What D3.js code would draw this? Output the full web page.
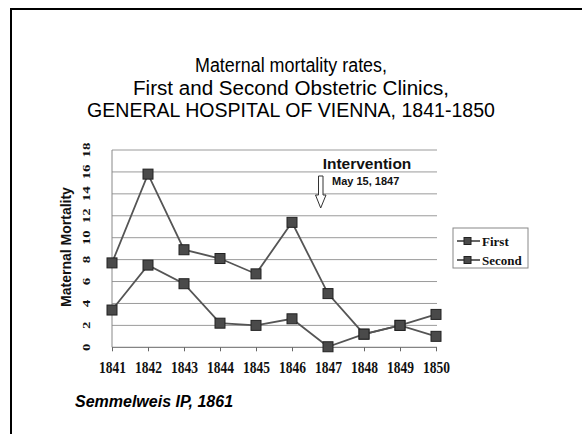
<!DOCTYPE html>
<html>
<head>
<meta charset="utf-8">
<script src="https://cdn.jsdelivr.net/npm/d3@7"></script>
<style>
body { margin: 0; background: #fff; }
svg { display: block; }
.grid line { stroke: #9a9a9a; stroke-width: 1; }
.serif { font-family: "Liberation Serif", "Times New Roman", serif; font-weight: bold; }
</style>
</head>
<body>
<div id="chart"></div>
<script>
// values
var years = ['1841','1842','1843','1844','1845','1846','1847','1848','1849','1850'];
var first = [7.7, 15.8, 8.9, 8.1, 6.7, 11.4, 4.9, 1.2, 2.0, 1.0];
var second = [3.4, 7.5, 5.8, 2.2, 2.0, 2.6, 0.05, 1.2, 2.0, 3.0];
var yTicks = [0, 2, 4, 6, 8, 10, 12, 14, 16, 18];
var titleLines = ['Maternal mortality rates,', 'First and Second Obstetric Clinics,', 'GENERAL HOSPITAL OF VIENNA, 1841-1850'];
var titleWidths = [192, 316, 408];

var W = 582, H = 434;
var svg = d3.select('#chart').append('svg').attr('width', W).attr('height', H);

// slide frame
svg.append('path')
    .attr('d', 'M11,' + H + 'V9H' + W)
    .attr('fill', 'none').attr('stroke', '#000').attr('stroke-width', 2);

// title, fitted to the widths measured on the slide
svg.append('g').selectAll('text').data(titleLines).enter().append('text')
    .attr('x', 291).attr('y', function(d, i) { return 72 + i * 22.5; })
    .attr('text-anchor', 'middle')
    .style('font-family', '"Liberation Sans", Arial, sans-serif')
    .style('font-size', '19.5px')
    .attr('textLength', function(d, i) { return titleWidths[i]; })
    .attr('lengthAdjust', 'spacingAndGlyphs')
    .attr('fill', '#000')
    .text(function(d) { return d; });

var x = d3.scalePoint().domain(years).range([112, 436]);
var y = d3.scaleLinear().domain([0, 18]).range([347.3, 150]);

// gridlines
svg.append('g').attr('class', 'grid').selectAll('line').data(yTicks.slice(1)).enter().append('line')
    .attr('x1', 112).attr('x2', 437)
    .attr('y1', function(d) { return y(d); }).attr('y2', function(d) { return y(d); });

// y axis line
svg.append('line').attr('x1', 112).attr('x2', 112).attr('y1', y(18)).attr('y2', y(0))
    .attr('stroke', '#888').attr('stroke-width', 1);

// x axis - labels in the pasted chart are stretched vertically
var xAxis = d3.axisBottom(x).tickSize(4).tickPadding(10);
var gx = svg.append('g').attr('transform', 'translate(0,' + y(0) + ')').call(xAxis);
gx.select('.domain').attr('stroke', '#666').attr('d', 'M112,0H437');
gx.selectAll('.tick line').attr('stroke', '#666');
gx.selectAll('.tick text').attr('class', 'serif').style('font-size', '13.5px').attr('fill', '#111')
    .attr('y', 0).attr('dy', 0)
    .attr('transform', 'translate(0,26) scale(1,1.25)');

// y tick labels (rotated)
svg.append('g').selectAll('text').data(yTicks).enter().append('text')
    .attr('class', 'serif')
    .attr('transform', function(d) { return 'translate(90,' + y(d) + ') rotate(-90) scale(1.35,1)'; })
    .attr('text-anchor', 'middle')
    .style('font-size', '11px')
    .attr('fill', '#111')
    .text(function(d) { return d; });

// y axis title
svg.append('text')
    .attr('transform', 'translate(71,247) rotate(-90)')
    .attr('text-anchor', 'middle')
    .style('font-family', '"Liberation Sans", Arial, sans-serif')
    .style('font-weight', 'bold').style('font-size', '14px')
    .attr('fill', '#111')
    .text('Maternal Mortality');

// series
var line = d3.line()
    .x(function(d, i) { return x(years[i]); })
    .y(function(d) { return y(d); });

[first, second].forEach(function(s) {
    svg.append('path').attr('d', line(s))
        .attr('fill', 'none').attr('stroke', '#555').attr('stroke-width', 1.8);
});
[first, second].forEach(function(s) {
    svg.append('g').selectAll('rect').data(s).enter().append('rect')
        .attr('x', function(d, i) { return x(years[i]) - 5; })
        .attr('y', function(d) { return y(d) - 5; })
        .attr('width', 10).attr('height', 10)
        .attr('fill', '#4a4a4a').attr('stroke', '#222').attr('stroke-width', 1);
});

// intervention note
svg.append('text').attr('x', 367).attr('y', 169).attr('text-anchor', 'middle')
    .style('font-family', '"Liberation Sans", Arial, sans-serif')
    .style('font-weight', 'bold').style('font-size', '15.5px').attr('fill', '#111')
    .text('Intervention');
svg.append('text').attr('x', 332).attr('y', 185)
    .style('font-family', '"Liberation Sans", Arial, sans-serif')
    .style('font-weight', 'bold').style('font-size', '11px').attr('fill', '#111')
    .text('May 15, 1847');
svg.append('path')
    .attr('d', 'M318.5,176H323V195H326L320.7,208L315.5,195H318.5Z')
    .attr('fill', '#fff').attr('stroke', '#333').attr('stroke-width', 1);

// legend
var lg = svg.append('g').attr('transform', 'translate(453,228)');
lg.append('rect').attr('width', 75).attr('height', 40)
    .attr('fill', '#fff').attr('stroke', '#888').attr('stroke-width', 1);
var names = ['First', 'Second'];
names.forEach(function(n, i) {
    var yy = 13 + i * 19;
    lg.append('line').attr('x1', 4).attr('x2', 27).attr('y1', yy).attr('y2', yy)
        .attr('stroke', '#555').attr('stroke-width', 1.8);
    lg.append('rect').attr('x', 11).attr('y', yy - 3.5).attr('width', 7).attr('height', 7)
        .attr('fill', '#4a4a4a').attr('stroke', '#222');
    lg.append('text').attr('class', 'serif').attr('x', 29).attr('y', yy + 4.5)
        .style('font-size', '13px').attr('fill', '#111').text(n);
});

// source
svg.append('text').attr('x', 75).attr('y', 407)
    .style('font-family', '"Liberation Sans", Arial, sans-serif')
    .style('font-weight', 'bold').style('font-style', 'italic').style('font-size', '16px')
    .attr('fill', '#000')
    .text('Semmelweis IP,  1861');
</script>
</body>
</html>
